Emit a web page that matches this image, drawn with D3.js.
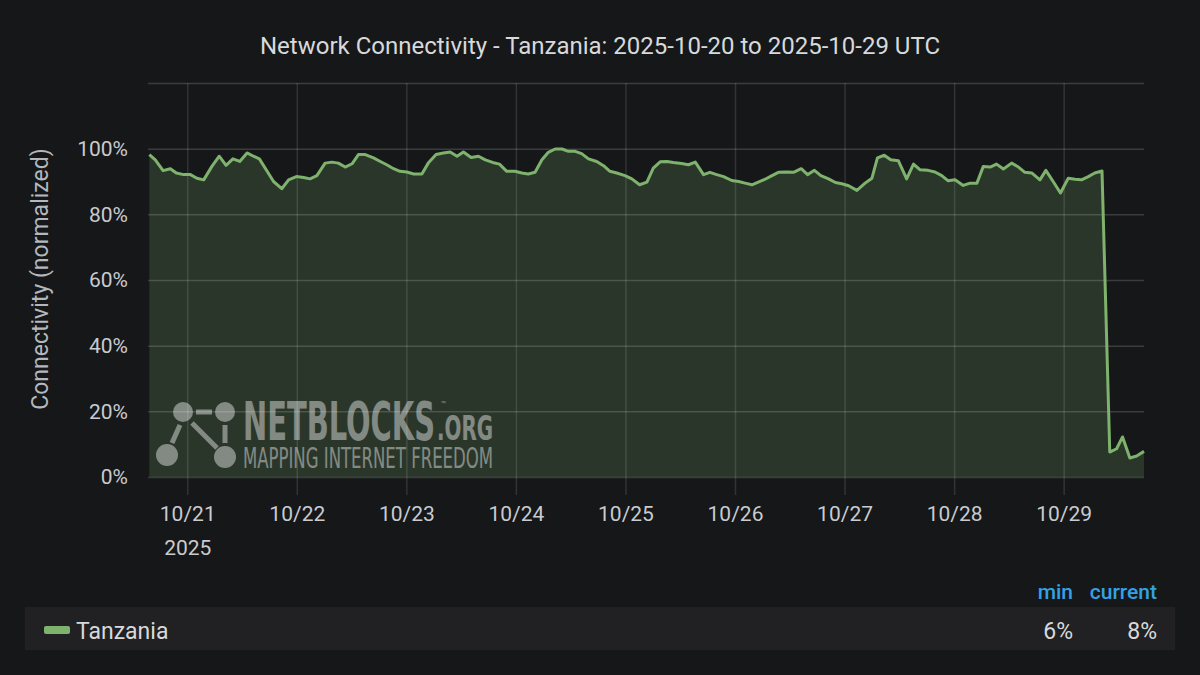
<!DOCTYPE html>
<html>
<head>
<meta charset="utf-8">
<script src="https://cdn.jsdelivr.net/npm/d3@7"></script>
<style>
  html, body { margin: 0; padding: 0; background: #161719; }
  svg { display: block; font-family: Roboto, "Noto Sans", sans-serif; }
</style>
</head>
<body>
<script>
/* Define data (hours since 2025-10-20 00:00 UTC, connectivity in %). */
const seriesName = "Tanzania"
const hours = [
  15.7, 17.0, 18.7, 20.3, 21.6, 23.2, 24.7, 26.1, 27.6, 29.4,
  31.0, 32.5, 34.0, 35.5, 37.1, 38.5, 39.8, 41.5, 42.9, 44.7,
  46.2, 47.9, 49.5, 50.9, 52.4, 54.2, 55.7, 57.1, 58.6, 60.1,
  61.5, 63.0, 64.8, 66.3, 67.7, 69.2, 70.6, 72.1, 73.6, 75.4,
  76.8, 78.5, 80.1, 81.6, 83.1, 84.5, 86.2, 87.8, 89.3, 90.9,
  92.4, 94.0, 95.8, 97.3, 98.7, 100.2, 101.7, 103.1, 104.6, 106.1,
  107.5, 109.0, 110.4, 111.9, 113.7, 115.2, 116.6, 118.1, 119.9, 121.4,
  123.1, 124.7, 126.1, 127.6, 129.1, 130.5, 132.3, 133.8, 135.3, 137.1,
  138.5, 140.0, 141.5, 143.3, 144.8, 146.2, 147.7, 149.1, 150.6, 152.1,
  153.5, 155.4, 156.8, 158.5, 159.9, 161.4, 162.8, 164.5, 166.0, 167.4,
  168.9, 170.7, 172.5, 174.0, 175.2, 176.7, 178.1, 179.8, 181.6, 183.1,
  184.5, 186.3, 187.8, 189.3, 190.7, 192.2, 194.0, 195.5, 197.0, 198.4,
  199.9, 201.3, 202.8, 204.6, 206.1, 207.5, 209.0, 210.8, 212.1, 213.7,
  215.3, 217.0, 218.5, 219.9, 221.4, 222.8, 224.4, 226.1, 227.6, 228.9,
  230.5, 232.0, 233.6
]
const values = [
  98.2, 96.6, 93.3, 93.9, 92.6, 92.1, 92.1, 91.0, 90.5, 94.6,
  97.7, 94.9, 96.9, 96.1, 98.7, 97.7, 96.9, 93.1, 90.0, 87.8,
  90.5, 91.5, 91.2, 90.8, 91.8, 95.6, 95.9, 95.6, 94.4, 95.4,
  98.2, 98.2, 97.2, 96.1, 95.1, 93.9, 93.1, 92.9, 92.3, 92.3,
  95.6, 98.2, 98.7, 99.0, 97.7, 99.0, 97.3, 97.7, 96.6, 95.8,
  95.3, 93.1, 93.1, 92.6, 92.3, 92.8, 96.6, 98.9, 99.9, 99.9,
  99.2, 99.2, 98.5, 96.9, 96.1, 94.8, 93.1, 92.6, 91.8, 90.8,
  89.0, 89.8, 94.1, 96.0, 96.1, 95.8, 95.5, 95.1, 95.9, 92.1,
  92.8, 92.1, 91.5, 90.3, 90.0, 89.5, 89.0, 89.8, 90.7, 91.8,
  92.8, 92.9, 92.8, 93.9, 92.1, 93.4, 91.8, 90.8, 89.7, 89.3,
  88.7, 87.3, 89.5, 91.0, 97.2, 98.0, 96.6, 96.3, 90.8, 95.3,
  93.6, 93.4, 92.9, 91.8, 90.2, 90.5, 88.8, 89.5, 89.5, 94.6,
  94.4, 95.3, 93.8, 95.6, 94.4, 92.8, 92.6, 90.5, 93.4, 90.0,
  86.5, 91.0, 90.7, 90.5, 91.5, 92.6, 93.2, 7.6, 8.6, 12.2,
  5.8, 6.4, 7.8
]
const yTicks = [0, 20, 40, 60, 80, 100]
const yGrid = [0, 20, 40, 60, 80, 100, 120]
const legendHeaders = ["min", "current"]
const legendValues = ["6%", "8%"]

/* Define svg-size and layout. */
const width = 1200
const height = 675
const margin = { top: 83, right: 56, bottom: 198, left: 148 }
const plotW = width - margin.left - margin.right
const plotH = height - margin.top - margin.bottom
const lineColor = "#7eb26d"

const svg = d3.select("body")
  .append("svg")
  .attr("width", width)
  .attr("height", height)

svg.append("rect")
  .attr("width", width)
  .attr("height", height)
  .attr("fill", "#161719")

/* Scales. */
const t0 = Date.UTC(2025, 9, 20, 0, 0)
const toDate = h => new Date(t0 + h * 3600 * 1000)
const x = d3.scaleUtc()
  .domain([toDate(15.4), toDate(233.6)])
  .range([0, plotW])
const y = d3.scaleLinear()
  .domain([0, 120])
  .range([plotH, 0])

const data = hours.map((h, i) => ({ date: toDate(h), value: values[i] }))

const g = svg.append("g")
  .attr("transform", `translate(${margin.left},${margin.top})`)

/* Area fill. */
g.append("path")
  .datum(data)
  .attr("fill", lineColor)
  .attr("fill-opacity", 0.2)
  .attr("d", d3.area().x(d => x(d.date)).y0(y(0)).y1(d => y(d.value)))

/* Watermark. */
const wm = g.append("g")
  .attr("transform", `translate(${155 - margin.left},${400 - margin.top})`)
  .attr("fill", "#ffffff")
  .attr("stroke", "#ffffff")
  .attr("opacity", 0.42)
const dots = [[28, 12, 10], [70, 12, 10], [12, 55, 11], [70, 57, 11]]
wm.selectAll("circle")
  .data(dots)
  .enter()
  .append("circle")
  .attr("cx", d => d[0])
  .attr("cy", d => d[1])
  .attr("r", d => d[2])
  .attr("stroke", "none")
const links = [[41, 12, 57, 12], [25, 25, 17, 43], [37, 23, 62, 48], [70, 25, 70, 43]]
wm.selectAll("line")
  .data(links)
  .enter()
  .append("line")
  .attr("x1", d => d[0]).attr("y1", d => d[1])
  .attr("x2", d => d[2]).attr("y2", d => d[3])
  .attr("stroke-width", 5)
wm.append("text")
  .attr("x", 88).attr("y", 40)
  .attr("stroke", "none")
  .attr("font-family", "'DejaVu Sans Condensed', 'DejaVu Sans', sans-serif")
  .attr("font-weight", "bold")
  .attr("font-size", 53)
  .attr("textLength", 192)
  .attr("lengthAdjust", "spacingAndGlyphs")
  .text("NETBLOCKS")
wm.append("text")
  .attr("x", 282).attr("y", 40)
  .attr("stroke", "none")
  .attr("font-family", "'DejaVu Sans Condensed', 'DejaVu Sans', sans-serif")
  .attr("font-weight", "bold")
  .attr("font-size", 33)
  .attr("textLength", 56)
  .attr("lengthAdjust", "spacingAndGlyphs")
  .text(".ORG")
wm.append("text")
  .attr("x", 286).attr("y", 7)
  .attr("stroke", "none")
  .attr("font-size", 8)
  .text("™")
wm.append("text")
  .attr("x", 88).attr("y", 68)
  .attr("stroke", "none")
  .attr("font-family", "'DejaVu Sans Condensed', 'DejaVu Sans', sans-serif")
  .attr("font-weight", 300)
  .attr("font-size", 28)
  .attr("textLength", 250)
  .attr("lengthAdjust", "spacingAndGlyphs")
  .text("MAPPING INTERNET FREEDOM")

/* Horizontal grid. */
const yGridAxis = g.append("g")
  .call(d3.axisLeft(y).tickValues(yGrid).tickSize(-plotW).tickFormat(""))
yGridAxis.select(".domain").remove()
yGridAxis.selectAll("line")
  .attr("stroke", "#ffffff")
  .attr("stroke-opacity", 0.16)
  .attr("stroke-width", 1.5)

/* Vertical grid with ticks below the plot. */
const xGridAxis = g.append("g")
  .attr("transform", `translate(0,${plotH + 18})`)
  .call(d3.axisBottom(x).ticks(d3.utcDay.every(1)).tickSize(-(plotH + 18)).tickFormat(""))
xGridAxis.select(".domain").remove()
xGridAxis.selectAll("line")
  .attr("stroke", "#ffffff")
  .attr("stroke-opacity", 0.12)
  .attr("stroke-width", 1.5)

/* Line. */
g.append("path")
  .datum(data)
  .attr("fill", "none")
  .attr("stroke", lineColor)
  .attr("stroke-width", 3)
  .attr("stroke-linejoin", "round")
  .attr("d", d3.line().x(d => x(d.date)).y(d => y(d.value)))

/* X axis labels. */
const fmt = d3.utcFormat("%m/%d")
const xAxis = g.append("g")
  .attr("transform", `translate(0,${plotH})`)
  .call(d3.axisBottom(x).ticks(d3.utcDay.every(1)).tickSize(0).tickPadding(29).tickFormat(fmt))
xAxis.select(".domain").remove()
xAxis.selectAll("text")
  .attr("fill", "#c8cbd0")
  .attr("font-size", 21)
  .attr("font-family", "Roboto, sans-serif")
xAxis.selectAll(".tick")
  .filter((d, i) => i === 0)
  .select("text")
  .append("tspan")
  .attr("x", 0)
  .attr("dy", "1.6em")
  .text("2025")

/* Y axis labels. */
const yAxis = g.append("g")
  .call(d3.axisLeft(y).tickValues(yTicks).tickSize(0).tickPadding(20).tickFormat(d => d + "%"))
yAxis.select(".domain").remove()
yAxis.selectAll("text")
  .attr("fill", "#c8cbd0")
  .attr("font-size", 21)
  .attr("font-family", "Roboto, sans-serif")

/* Y axis title. */
svg.append("text")
  .attr("transform", "translate(48,279) rotate(-90)")
  .attr("text-anchor", "middle")
  .attr("fill", "#b4b8bd")
  .attr("font-size", 23)
  .text("Connectivity (normalized)")

/* Title. */
svg.append("text")
  .attr("x", 600)
  .attr("y", 54)
  .attr("text-anchor", "middle")
  .attr("fill", "#d8d9da")
  .attr("font-size", 24)
  .text("Network Connectivity - Tanzania: 2025-10-20 to 2025-10-29 UTC")

/* Legend. */
const legendCols = [1073, 1157]
svg.selectAll(".legend-head")
  .data(legendHeaders)
  .enter()
  .append("text")
  .attr("class", "legend-head")
  .attr("x", (d, i) => legendCols[i])
  .attr("y", 599)
  .attr("text-anchor", "end")
  .attr("fill", "#33a2e5")
  .attr("font-size", 21)
  .attr("font-weight", 500)
  .text(d => d)

svg.append("rect")
  .attr("x", 25)
  .attr("y", 607)
  .attr("width", 1150)
  .attr("height", 43)
  .attr("fill", "#212124")

svg.append("rect")
  .attr("x", 44)
  .attr("y", 626)
  .attr("width", 26)
  .attr("height", 8)
  .attr("rx", 2)
  .attr("fill", lineColor)

svg.append("text")
  .attr("x", 76)
  .attr("y", 639)
  .attr("fill", "#d8d9da")
  .attr("font-size", 23)
  .text(seriesName)

svg.selectAll(".legend-val")
  .data(legendValues)
  .enter()
  .append("text")
  .attr("class", "legend-val")
  .attr("x", (d, i) => legendCols[i])
  .attr("y", 639)
  .attr("text-anchor", "end")
  .attr("fill", "#d8d9da")
  .attr("font-size", 23)
  .text(d => d)
</script>
</body>
</html>
